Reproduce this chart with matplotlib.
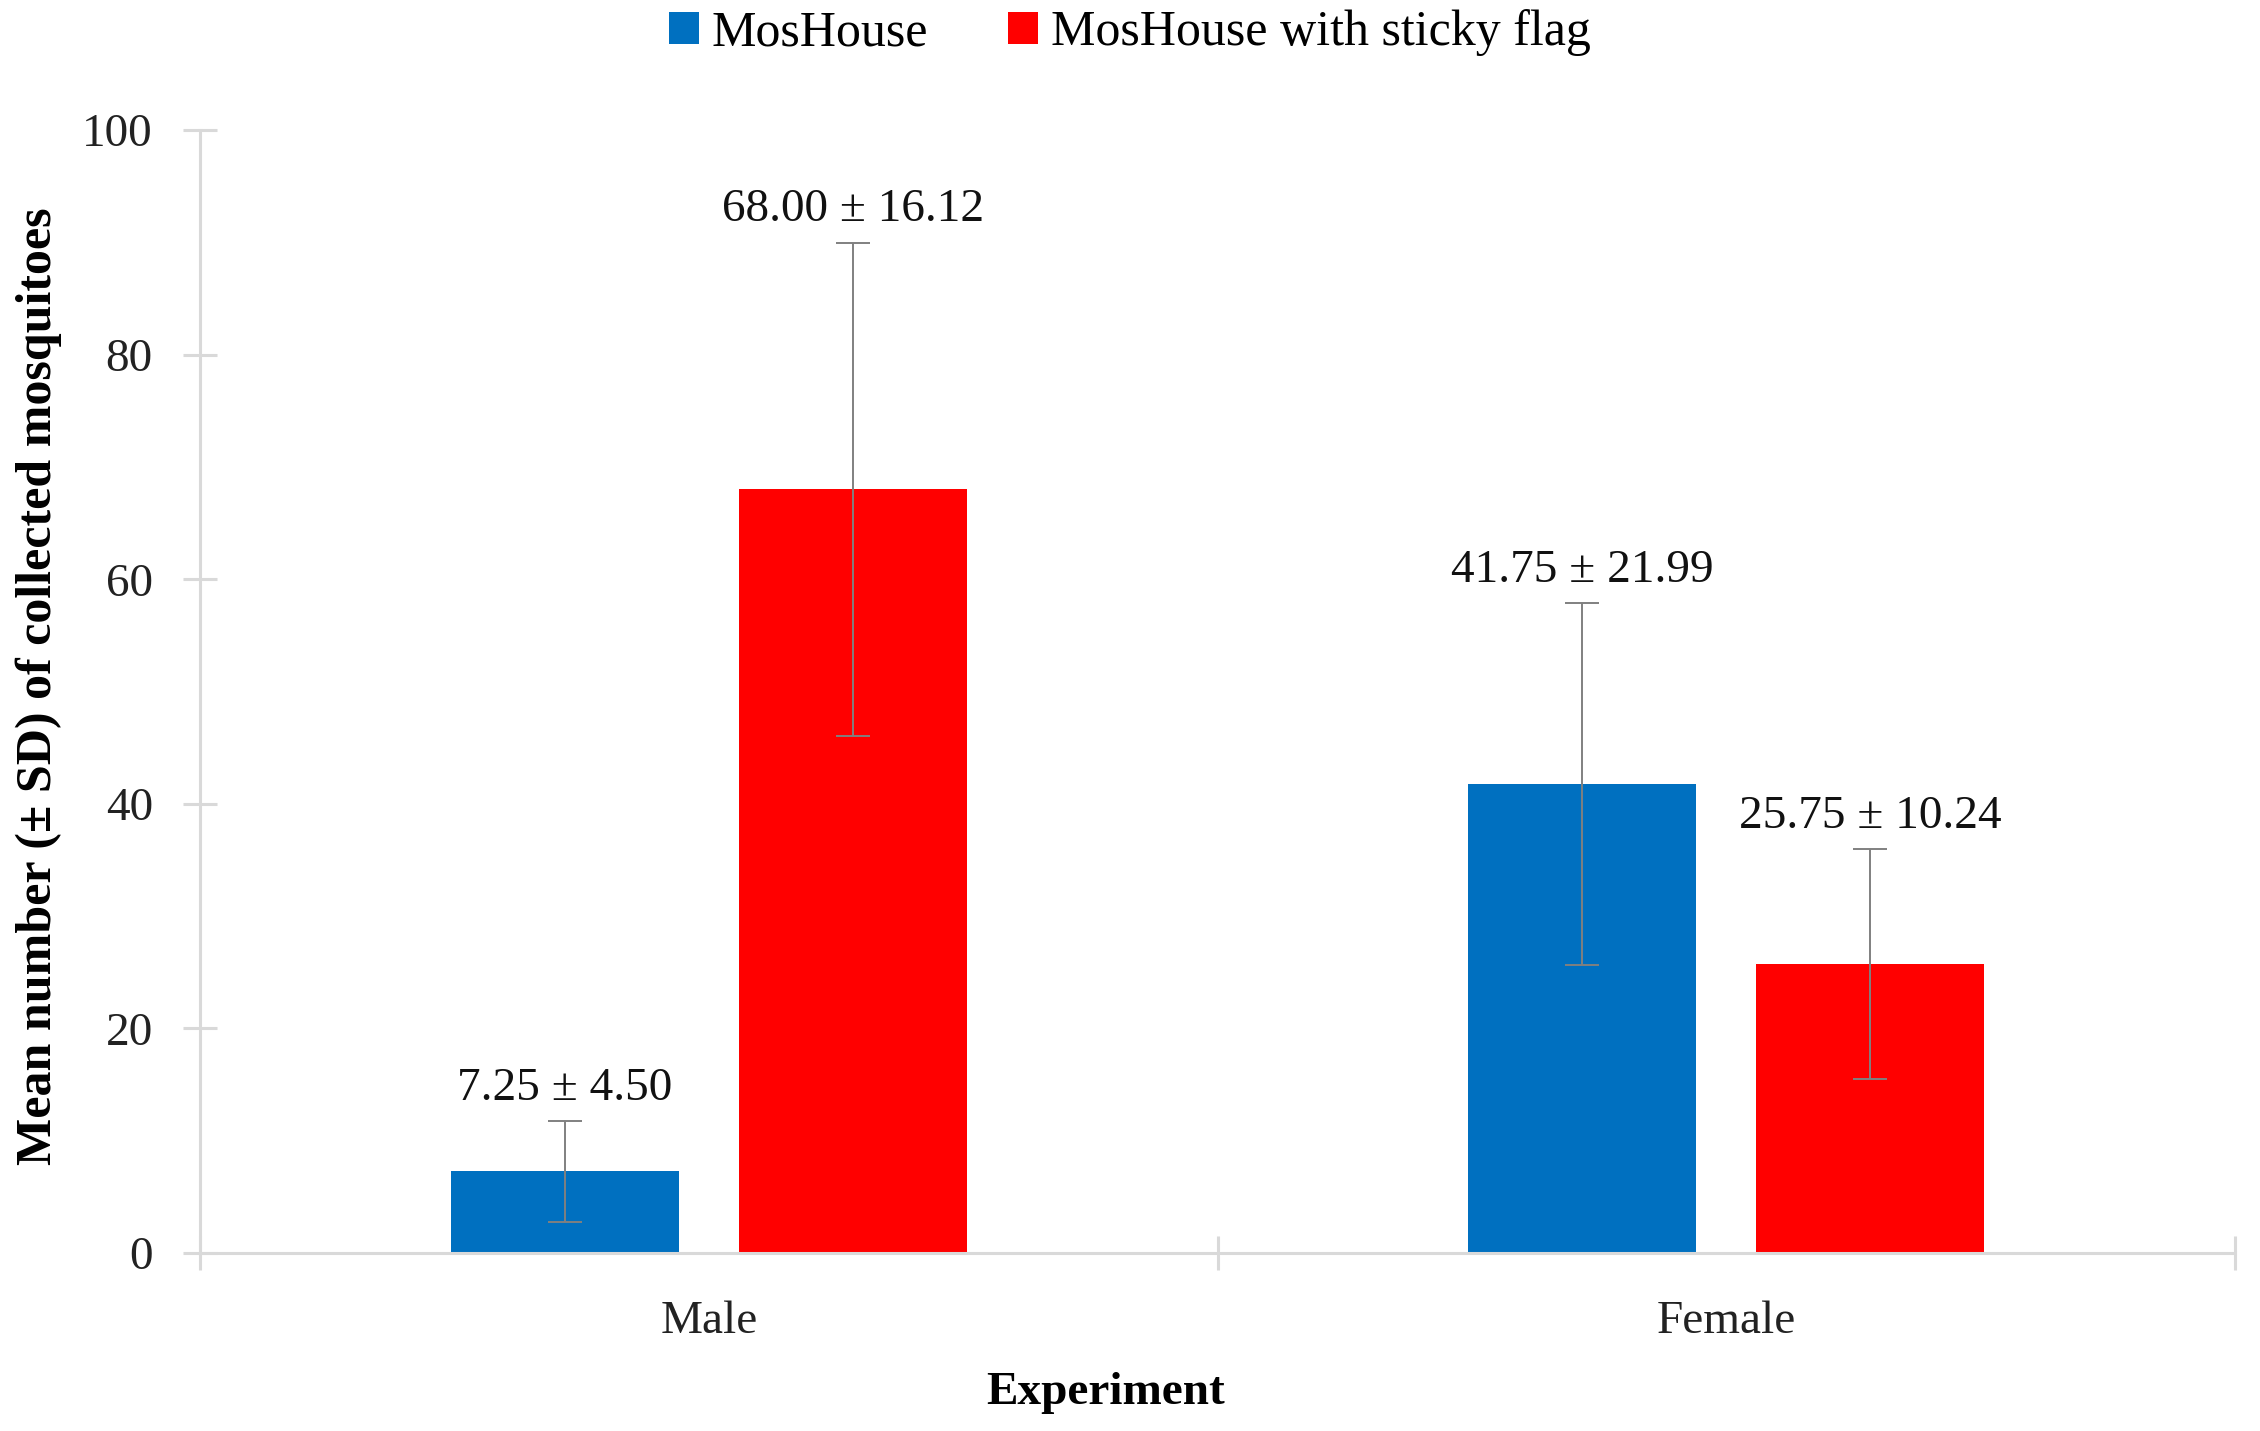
import numpy as np
import matplotlib
matplotlib.use("Agg")
import matplotlib.pyplot as plt
from matplotlib.patches import Patch

# === DATA ===
categories = ["Male", "Female"]
series_names = ["MosHouse", "MosHouse with sticky flag"]
mos_mean = [7.25, 41.75]
mos_err = [4.50, 16.12]          # error bars as drawn
flag_mean = [68.00, 25.75]
flag_err = [21.99, 10.24]        # error bars as drawn
mos_labels = ["7.25 ± 4.50", "41.75 ± 21.99"]
flag_labels = ["68.00 ± 16.12", "25.75 ± 10.24"]
yticks = [0, 20, 40, 60, 80, 100]

BLUE = "#0070C0"
RED = "#FF0000"
AXIS = "#D9D9D9"
ERR = "#808080"

plt.rcParams["font.family"] = ["Liberation Serif", "DejaVu Serif"]

fig = plt.figure(figsize=(11.3, 7.155), dpi=200)
ax = fig.add_axes([0.0885, 0.1245, 0.9005, 0.7845])

x = np.arange(len(categories))
width = 0.224
off = 0.1416

ax.bar(x - off, mos_mean, width, color=BLUE, zorder=2)
ax.bar(x + off, flag_mean, width, color=RED, zorder=2)
ax.errorbar(x - off, mos_mean, yerr=mos_err, fmt="none", ecolor=ERR,
            elinewidth=0.7, capsize=6, capthick=0.7, zorder=3)
ax.errorbar(x + off, flag_mean, yerr=flag_err, fmt="none", ecolor=ERR,
            elinewidth=0.7, capsize=6, capthick=0.7, zorder=3)

# value labels above error bars
for xs, means, errs, labs in [(x - off, mos_mean, mos_err, mos_labels),
                              (x + off, flag_mean, flag_err, flag_labels)]:
    for xi, m, e, lab in zip(xs, means, errs, labs):
        ax.annotate(lab, (xi, m + e), xytext=(0, 4), textcoords="offset points",
                    ha="center", va="bottom", fontsize=17, color="#111111")

# === AXES ===
ax.set_xlim(-0.5, 1.5)
ax.set_ylim(0, 100)
ax.set_yticks(yticks)
ax.set_xticks(x)
ax.set_xticklabels(categories)
ax.set_xticks([-0.5, 0.5, 1.5], minor=True)

for s in ["top", "right"]:
    ax.spines[s].set_visible(False)
for s in ["left", "bottom"]:
    ax.spines[s].set_color(AXIS)
    ax.spines[s].set_linewidth(1.1)

ax.tick_params(axis="y", direction="inout", length=12, width=1.1, color=AXIS,
               labelsize=17, labelcolor="#222222", pad=11)
ax.tick_params(axis="x", which="major", length=0, labelsize=17,
               labelcolor="#222222", pad=17)
ax.tick_params(axis="x", which="minor", direction="inout", length=12,
               width=1.1, color=AXIS)

ax.set_xlabel("Experiment", fontsize=17, fontweight="bold")
ax.xaxis.set_label_coords(0.445, -0.106)
ax.set_ylabel("Mean number (± SD) of collected mosquitoes", fontsize=18,
              fontweight="bold")
ax.yaxis.set_label_coords(-0.068, 0.505)

handles = [Patch(facecolor=BLUE), Patch(facecolor=RED)]
fig.legend(handles, series_names, loc="center", bbox_to_anchor=(0.5, 0.977),
           ncol=2, frameon=False, fontsize=18, handlelength=0.6,
           handleheight=0.6, handletextpad=0.25, columnspacing=1.6)

fig.savefig("out.png", dpi=200)
